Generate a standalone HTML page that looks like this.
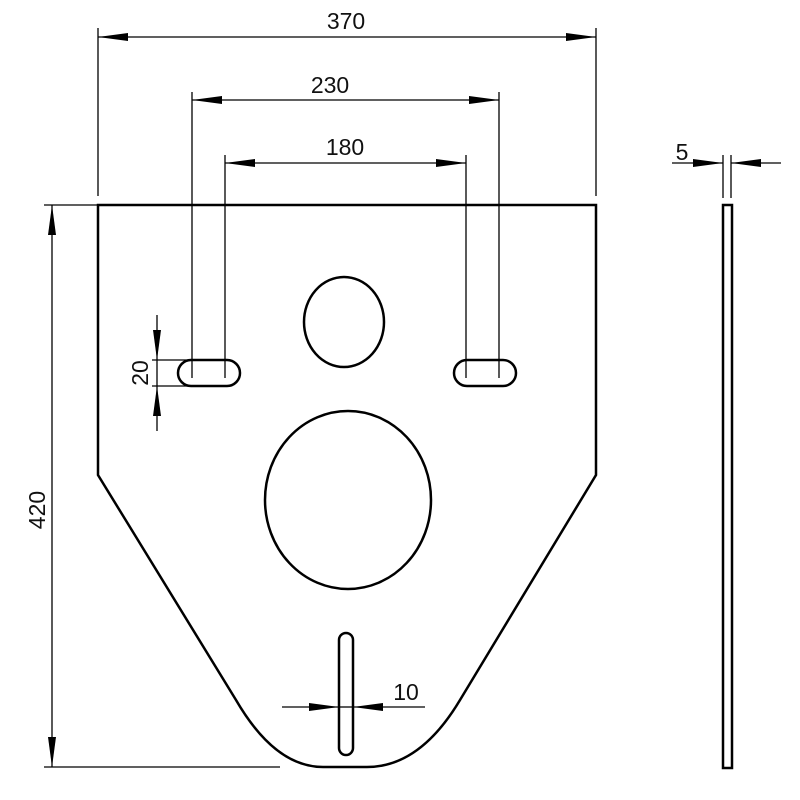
<!DOCTYPE html>
<html><head><style>body{margin:0;background:#fff}svg{display:block}text{font-family:"Liberation Sans",sans-serif;font-size:23px;fill:#111}</style></head>
<body>
<svg width="800" height="800" viewBox="0 0 800 800" xmlns="http://www.w3.org/2000/svg">
<defs>
<marker id="a" viewBox="0 0 30 8" refX="30" refY="4" markerWidth="30" markerHeight="8" markerUnits="userSpaceOnUse" orient="auto"><path d="M0,0 L30,4 L0,8 Z" fill="#000"/></marker>
<marker id="b" viewBox="0 0 30 8" refX="0" refY="4" markerWidth="30" markerHeight="8" markerUnits="userSpaceOnUse" orient="auto"><path d="M30,0 L0,4 L30,8 Z" fill="#000"/></marker>
</defs>
<g stroke="#000" fill="none">
<!-- plate -->
<path d="M98,205 L596,205 L596,475 L460,700 Q420,767 367,767 L323,767 Q275,767 236,700 L98,475 Z" stroke-width="2.5"/>
<ellipse cx="344" cy="322" rx="40" ry="45" stroke-width="2.5"/>
<ellipse cx="348" cy="500" rx="83" ry="89" stroke-width="2.5"/>
<rect x="178" y="360" width="62" height="26" rx="13" stroke-width="2.5"/>
<rect x="454" y="360" width="62" height="26" rx="13" stroke-width="2.5"/>
<rect x="339" y="633" width="14" height="122" rx="7" stroke-width="2.5"/>
<!-- side view -->
<rect x="723" y="205" width="9" height="563" stroke-width="2.5"/>
<g stroke-width="1.3">
<line x1="723" y1="155" x2="723" y2="198"/><line x1="731" y1="155" x2="731" y2="198"/>
<line x1="672" y1="163" x2="723" y2="163" marker-end="url(#a)"/>
<line x1="731" y1="163" x2="781" y2="163" marker-start="url(#b)"/>
<!-- 370 -->
<line x1="98" y1="28" x2="98" y2="196"/><line x1="596" y1="28" x2="596" y2="196"/>
<line x1="98" y1="37" x2="596" y2="37" marker-start="url(#b)" marker-end="url(#a)"/>
<!-- 230 -->
<line x1="192" y1="92" x2="192" y2="378"/><line x1="499" y1="92" x2="499" y2="378"/>
<line x1="192" y1="100" x2="499" y2="100" marker-start="url(#b)" marker-end="url(#a)"/>
<!-- 180 -->
<line x1="225" y1="155" x2="225" y2="378"/><line x1="466" y1="155" x2="466" y2="378"/>
<line x1="225" y1="163" x2="466" y2="163" marker-start="url(#b)" marker-end="url(#a)"/>
<!-- 420 -->
<line x1="44" y1="205" x2="98" y2="205"/><line x1="44" y1="767" x2="280" y2="767"/>
<line x1="52" y1="205" x2="52" y2="767" marker-start="url(#b)" marker-end="url(#a)"/>
<!-- 20 -->
<line x1="152" y1="360" x2="190" y2="360"/><line x1="152" y1="386" x2="190" y2="386"/>
<line x1="157" y1="315" x2="157" y2="360" marker-end="url(#a)"/>
<line x1="157" y1="386" x2="157" y2="431" marker-start="url(#b)"/>
<line x1="157" y1="360" x2="157" y2="386"/>
<!-- 10 -->
<line x1="282" y1="707" x2="339" y2="707" marker-end="url(#a)"/>
<line x1="353" y1="707" x2="425" y2="707" marker-start="url(#b)"/>
<line x1="339" y1="707" x2="353" y2="707"/>
</g>
</g>
<text x="346" y="29" text-anchor="middle">370</text>
<text x="330" y="93" text-anchor="middle">230</text>
<text x="345" y="155" text-anchor="middle">180</text>
<text x="682" y="160" text-anchor="middle">5</text>
<text x="406" y="700" text-anchor="middle">10</text>
<text transform="translate(45,510) rotate(-90)" text-anchor="middle">420</text>
<text transform="translate(148,373) rotate(-90)" text-anchor="middle">20</text>
</svg>
</body></html>
